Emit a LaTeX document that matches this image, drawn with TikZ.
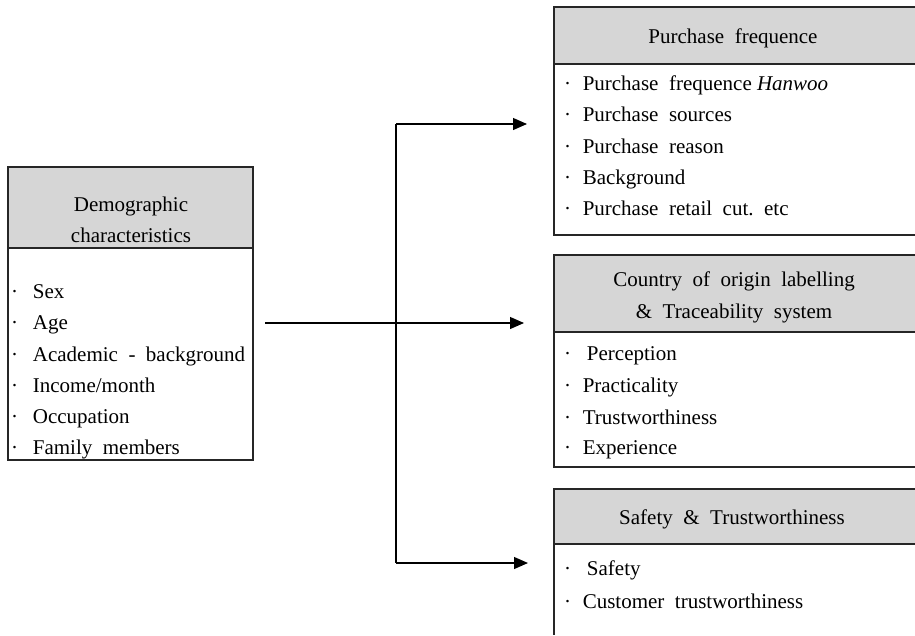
\documentclass[tikz,border=0pt]{standalone}
\usepackage{fontspec}
\setmainfont{Liberation Serif}
\usetikzlibrary{arrows.meta}
\begin{document}
\begin{tikzpicture}[x=1pt,y=-1pt,
  box/.style={draw=black!85, line width=1.2pt, inner sep=0pt, outer sep=0pt, anchor=north west},
  hdr/.style={box, fill=black!16},
  obox/.style={inner sep=0pt, outer sep=0pt, anchor=north west, minimum width=365pt},
  ohdr/.style={obox, fill=black!16},
  edge/.style={draw=black!85, line width=1.2pt},
  ttl/.style={font=\fontsize{21}{31}\selectfont, anchor=base, inner sep=0pt},
  itm/.style={font=\fontsize{21}{31}\selectfont, anchor=base west, inner sep=0pt}]
\tikzset{arr/.style={line width=1.2pt, -{Triangle[length=14pt,width=12pt]}}}
\useasboundingbox (0,0) rectangle (915,635);
% left box
\node[hdr, minimum width=245pt, minimum height=81pt] (dhead) at (8,167) {};
\node[box, minimum width=245pt, minimum height=212pt] (dbody) at (8,248) {};
\node[ttl] (dt1) at (131,211) {Demographic};
\node[ttl] (dt2) at (131,242) {characteristics};
\node[itm] (d1) at (11,298) {·\hspace{0.7em}Sex};
\node[itm] (d2) at (11,329) {·\hspace{0.7em}Age};
\node[itm] (d3) at (11,361) {·\hspace{0.7em}Academic\ \ -\ \ background};
\node[itm] (d4) at (11,392) {·\hspace{0.7em}Income/month};
\node[itm] (d5) at (11,423) {·\hspace{0.7em}Occupation};
\node[itm] (d6) at (11,454) {·\hspace{0.7em}Family\ \ members};
% top right box (open on the right, runs off the page)
\node[ohdr, minimum height=57pt] (phead) at (554,7) {};
\node[obox, minimum height=171pt] (pbody) at (554,64) {};
\draw[edge] (phead.north east) -- (phead.north west) -- (pbody.south west) -- (pbody.south east);
\draw[edge] (phead.south west) -- (phead.south east);
\node[ttl] (pt) at (733,43) {Purchase\ \ frequence};
\node[itm] (p1) at (564,90) {·\hspace{0.55em}Purchase\ \ frequence \textit{Hanwoo}};
\node[itm] (p2) at (564,121) {·\hspace{0.55em}Purchase\ \ sources};
\node[itm] (p3) at (564,153) {·\hspace{0.55em}Purchase\ \ reason};
\node[itm] (p4) at (564,184) {·\hspace{0.55em}Background};
\node[itm] (p5) at (564,215) {·\hspace{0.55em}Purchase\ \ retail\ \ cut.\ \ etc};
% middle right box
\node[ohdr, minimum height=77pt] (chead) at (554,255) {};
\node[obox, minimum height=135pt] (cbody) at (554,332) {};
\draw[edge] (chead.north east) -- (chead.north west) -- (cbody.south west) -- (cbody.south east);
\draw[edge] (chead.south west) -- (chead.south east);
\node[ttl] (ct1) at (734,286) {Country\ \ of\ \ origin\ \ labelling};
\node[ttl] (ct2) at (734,318) {\&\ \ Traceability\ \ system};
\node[itm] (c1) at (564,360) {·\hspace{0.75em}Perception};
\node[itm] (c2) at (564,392) {·\hspace{0.55em}Practicality};
\node[itm] (c3) at (564,424) {·\hspace{0.55em}Trustworthiness};
\node[itm] (c4) at (564,454) {·\hspace{0.55em}Experience};
% bottom right box (runs off the page at the bottom)
\node[ohdr, minimum height=55pt] (shead) at (554,489) {};
\node[obox, minimum height=91pt] (sbody) at (554,544) {};
\draw[edge] (shead.north east) -- (shead.north west) -- (sbody.south west);
\draw[edge] (shead.south west) -- (shead.south east);
\node[ttl] (st) at (732,524) {Safety\ \ \&\ \ Trustworthiness};
\node[itm] (s1) at (564,575) {·\hspace{0.75em}Safety};
\node[itm] (s2) at (564,608) {·\hspace{0.55em}Customer\ \ trustworthiness};
% connectors
\coordinate (src) at (265,323);
\coordinate (ctip) at (524,323);
\coordinate (vtop) at (396,124);
\coordinate (vbot) at (396,563);
\coordinate (ptip) at (527,124);
\coordinate (stip) at (528,563);
\draw[arr] (src) -- (ctip);
\draw[line width=1.2pt] (vtop) -- (vbot);
\draw[arr] (vtop) -- (ptip);
\draw[arr] (vbot) -- (stip);
\end{tikzpicture}
\end{document}
